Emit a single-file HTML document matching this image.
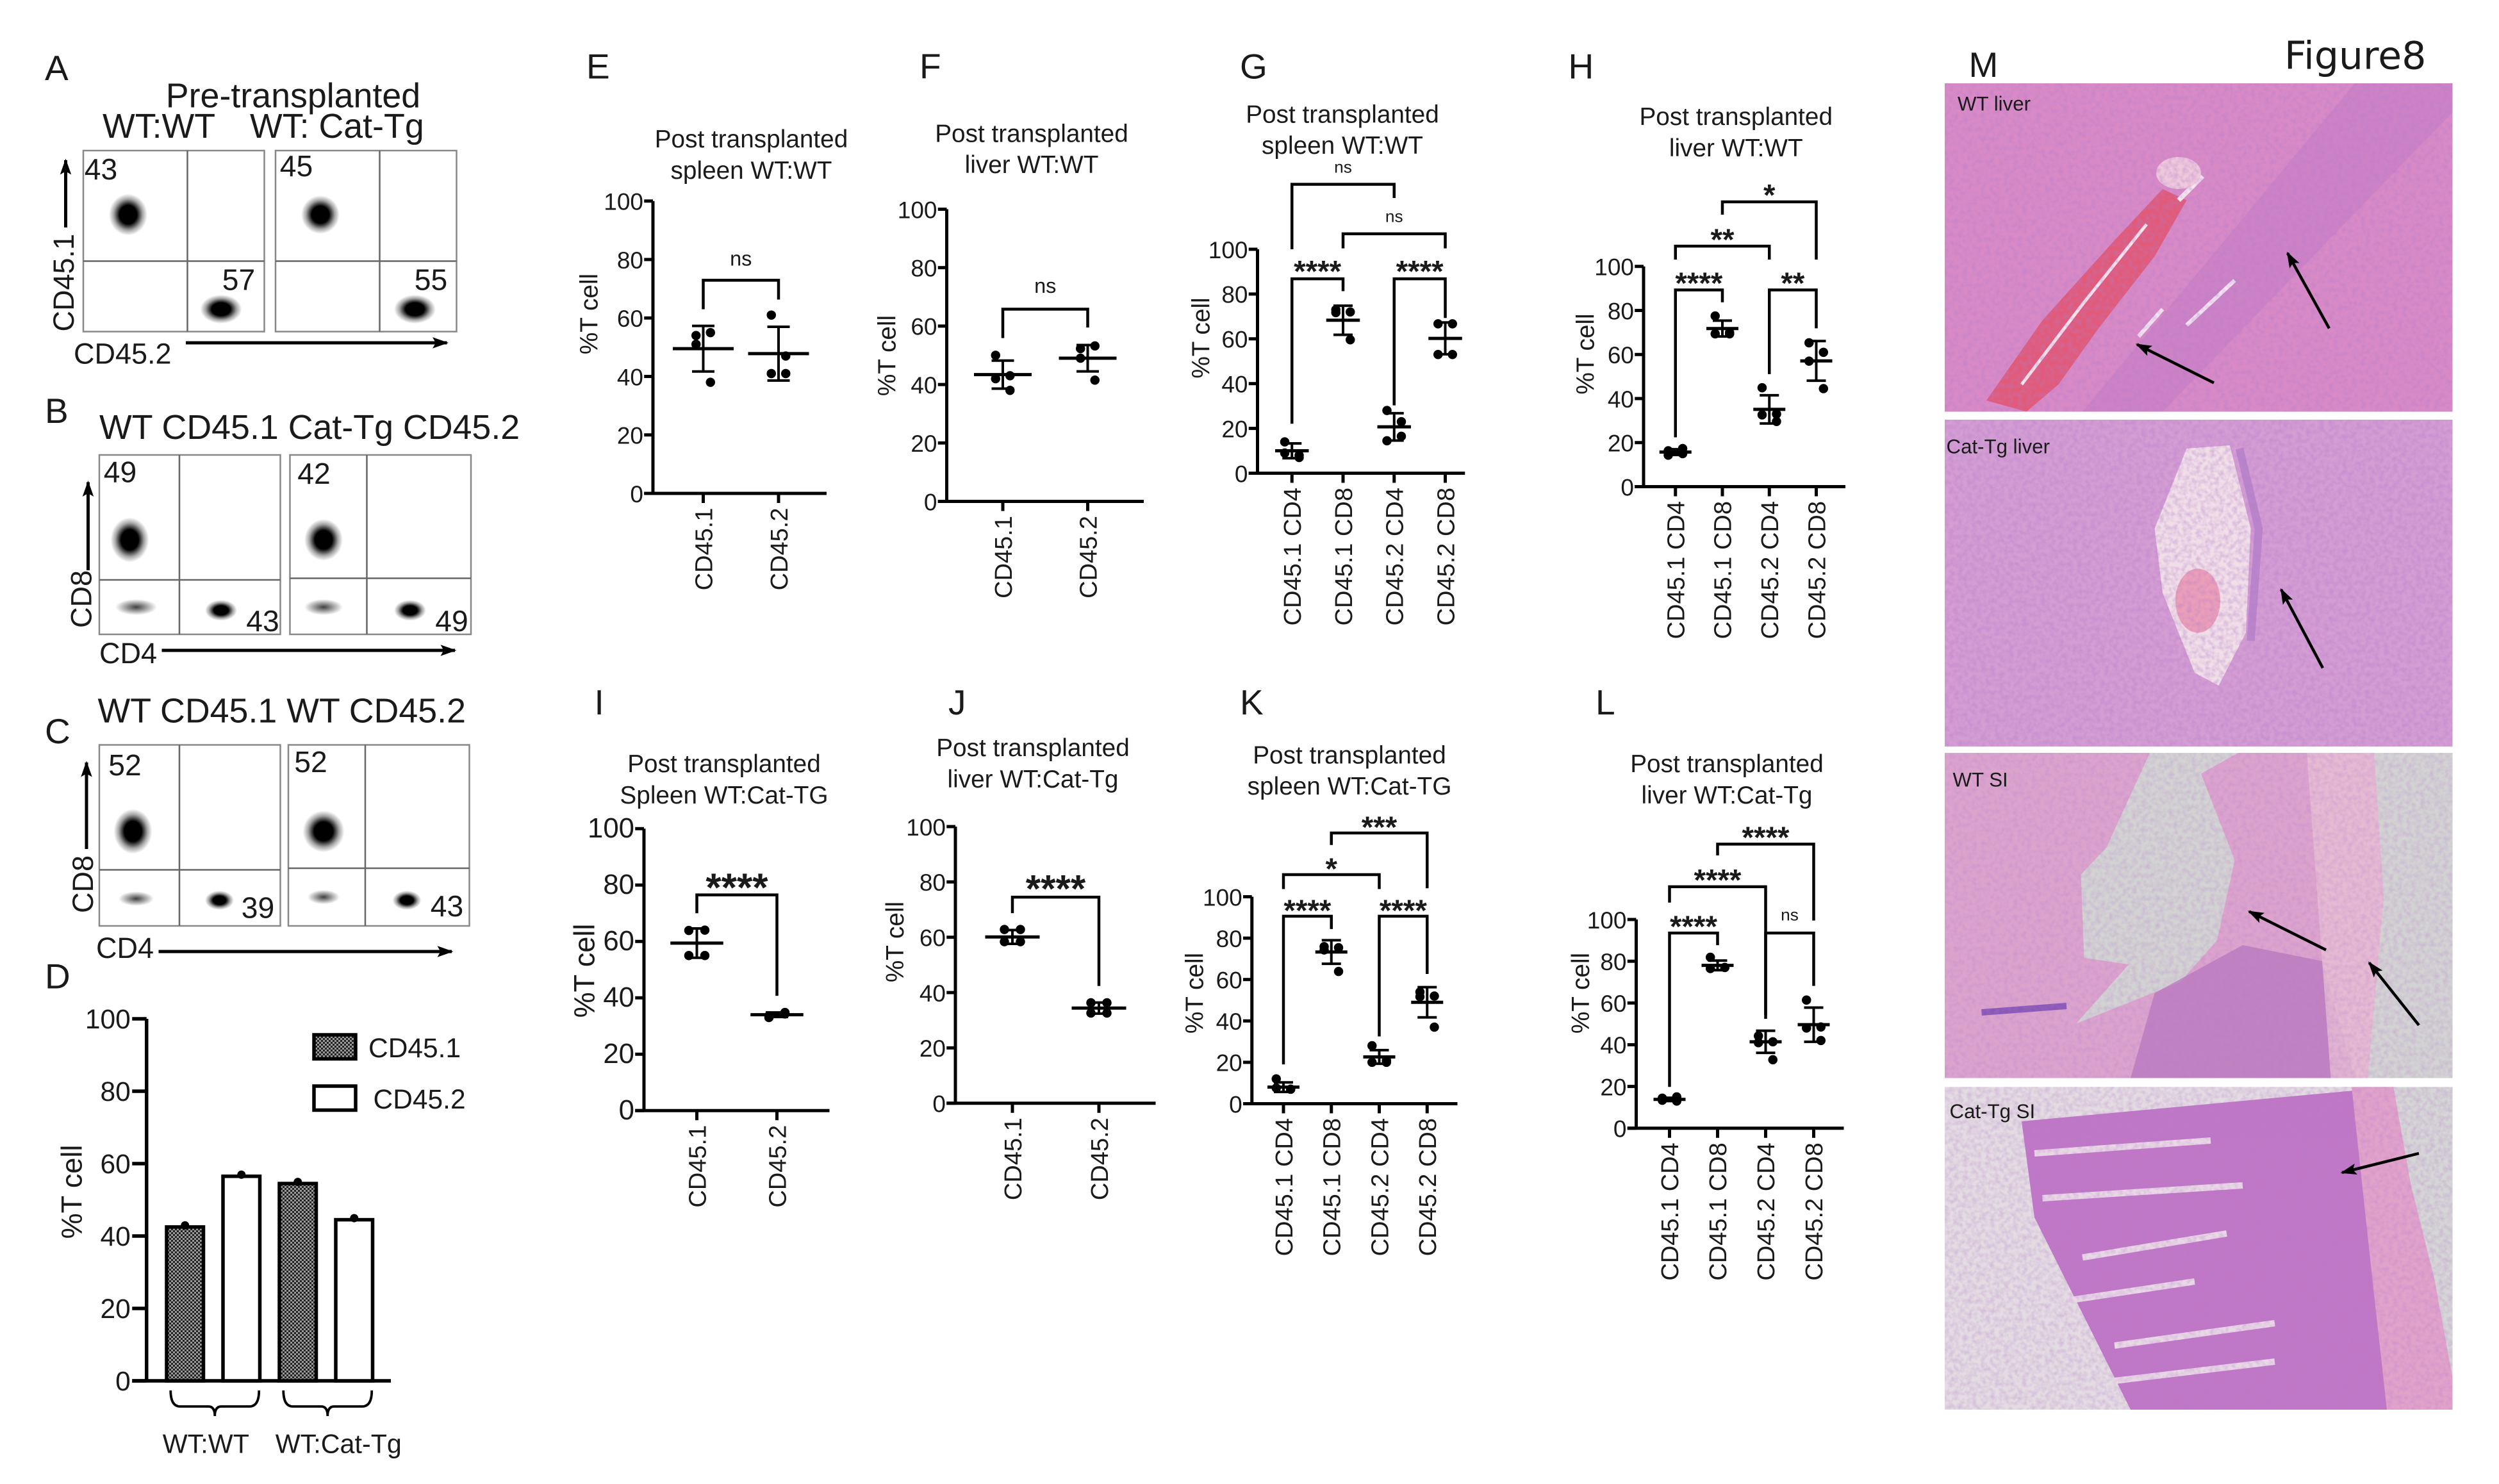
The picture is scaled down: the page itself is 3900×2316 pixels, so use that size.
<!DOCTYPE html>
<html><head><meta charset="utf-8"><title>Figure 8</title>
<style>
html,body{margin:0;padding:0;background:#fff;}
svg{display:block;}
text{font-family:"Liberation Sans",Arial,sans-serif;fill:#1a1a1a;}
</style></head>
<body>
<svg id="fig" xmlns="http://www.w3.org/2000/svg" width="3900" height="2316" viewBox="0 0 1560 926.4">
<defs>
  <pattern id="hatch" width="2.4" height="2.4" patternUnits="userSpaceOnUse">
    <rect width="2.4" height="2.4" fill="#9a9a9a"/>
    <rect width="1.2" height="1.2" fill="#222"/>
    <rect x="1.2" y="1.2" width="1.2" height="1.2" fill="#222"/>
  </pattern>
  <radialGradient id="blob"><stop offset="0" stop-color="#000"/><stop offset="0.45" stop-color="#000"/><stop offset="0.75" stop-color="#000" stop-opacity="0.35"/><stop offset="1" stop-color="#000" stop-opacity="0"/></radialGradient>
  <radialGradient id="blobFaint"><stop offset="0" stop-color="#000" stop-opacity="0.75"/><stop offset="0.6" stop-color="#000" stop-opacity="0.3"/><stop offset="1" stop-color="#000" stop-opacity="0"/></radialGradient>
  <filter id="tex" x="0" y="0" width="100%" height="100%">
    <feTurbulence type="fractalNoise" baseFrequency="0.35" numOctaves="2" seed="3"/>
    <feColorMatrix type="matrix" values="0 0 0 0 0.45  0 0 0 0 0.2  0 0 0 0 0.6  0 0 0 -1.6 1.05"/>
  </filter>
  <marker id="arrEnd" markerWidth="10" markerHeight="8" refX="9" refY="4" orient="auto" markerUnits="userSpaceOnUse">
    <path d="M0,0.5 L10,4 L0,7.5 L2,4 Z" fill="#000"/>
  </marker>
  <clipPath id="c1"><rect x="1214" y="52" width="317" height="205"/></clipPath>
  <clipPath id="c2"><rect x="1214" y="262" width="317" height="204"/></clipPath>
  <clipPath id="c3"><rect x="1214" y="470" width="317" height="203"/></clipPath>
  <clipPath id="c4"><rect x="1214" y="678.5" width="317" height="201.5"/></clipPath>
</defs>

<!-- ============ Panel A ============ -->
<g>
  <text x="28" y="50" font-size="22">A</text>
  <text x="183" y="67" font-size="21.5" text-anchor="middle">Pre-transplanted</text>
  <text x="64" y="86" font-size="21.5">WT:WT</text>
  <text x="156" y="86" font-size="21.5">WT: Cat-Tg</text>
  <g>
    <rect x="52" y="94" width="113" height="113" fill="none" stroke="#888" stroke-width="1"/>
    <line x1="117" y1="94" x2="117" y2="207" stroke="#666" stroke-width="1"/>
    <line x1="52" y1="163" x2="165" y2="163" stroke="#666" stroke-width="1"/>
    <ellipse cx="80" cy="134" rx="12" ry="13" fill="url(#blob)"/>
    <ellipse cx="138" cy="193" rx="13" ry="9" fill="url(#blob)"/>
    <text x="63" y="112" font-size="18.5" text-anchor="middle">43</text>
    <text x="149" y="181" font-size="18.5" text-anchor="middle">57</text>
  </g>
  <g>
    <rect x="172" y="94" width="113" height="113" fill="none" stroke="#888" stroke-width="1"/>
    <line x1="237" y1="94" x2="237" y2="207" stroke="#666" stroke-width="1"/>
    <line x1="172" y1="163" x2="285" y2="163" stroke="#666" stroke-width="1"/>
    <ellipse cx="200" cy="134" rx="12" ry="12" fill="url(#blob)"/>
    <ellipse cx="259" cy="193" rx="13" ry="9" fill="url(#blob)"/>
    <text x="185" y="110" font-size="18.5" text-anchor="middle">45</text>
    <text x="269" y="181" font-size="18.5" text-anchor="middle">55</text>
  </g>
  <text transform="translate(46,207) rotate(-90)" font-size="18">CD45.1</text>
  <line x1="41" y1="142" x2="41" y2="100" stroke="#000" stroke-width="2" marker-end="url(#arrEnd)"/>
  <text x="46" y="227" font-size="18">CD45.2</text>
  <line x1="116" y1="214" x2="279" y2="214" stroke="#000" stroke-width="2" marker-end="url(#arrEnd)"/>
</g>

<!-- ============ Panel B ============ -->
<g>
  <text x="28" y="264" font-size="22">B</text>
  <text x="62" y="274" font-size="21.5">WT CD45.1  Cat-Tg CD45.2</text>
  <g>
    <rect x="62" y="284" width="113" height="112" fill="none" stroke="#888"/>
    <line x1="112" y1="284" x2="112" y2="396" stroke="#666"/>
    <line x1="62" y1="362" x2="175" y2="362" stroke="#666"/>
    <ellipse cx="81" cy="337" rx="12" ry="14" fill="url(#blob)"/>
    <ellipse cx="85" cy="379" rx="13" ry="5" fill="url(#blobFaint)"/>
    <ellipse cx="138" cy="381" rx="10" ry="6.5" fill="url(#blob)"/>
    <text x="75" y="301" font-size="18.5" text-anchor="middle">49</text>
    <text x="164" y="394" font-size="18.5" text-anchor="middle">43</text>
  </g>
  <g>
    <rect x="181" y="284" width="113" height="112" fill="none" stroke="#888"/>
    <line x1="229" y1="284" x2="229" y2="396" stroke="#666"/>
    <line x1="181" y1="361" x2="294" y2="361" stroke="#666"/>
    <ellipse cx="202" cy="337" rx="12" ry="13" fill="url(#blob)"/>
    <ellipse cx="202" cy="379" rx="12" ry="5" fill="url(#blobFaint)"/>
    <ellipse cx="256" cy="381" rx="10" ry="6.5" fill="url(#blob)"/>
    <text x="196" y="302" font-size="18.5" text-anchor="middle">42</text>
    <text x="282" y="394" font-size="18.5" text-anchor="middle">49</text>
  </g>
  <text transform="translate(57,392) rotate(-90)" font-size="18">CD8</text>
  <line x1="55" y1="356" x2="55" y2="301" stroke="#000" stroke-width="2" marker-end="url(#arrEnd)"/>
  <text x="62" y="414" font-size="18">CD4</text>
  <line x1="101" y1="406" x2="284" y2="406" stroke="#000" stroke-width="2" marker-end="url(#arrEnd)"/>
</g>

<!-- ============ Panel C ============ -->
<g>
  <text x="28" y="464" font-size="22">C</text>
  <text x="61" y="451" font-size="21.5">WT CD45.1  WT CD45.2</text>
  <g>
    <rect x="62" y="465" width="113" height="113" fill="none" stroke="#888"/>
    <line x1="112" y1="465" x2="112" y2="578" stroke="#666"/>
    <line x1="62" y1="543" x2="175" y2="543" stroke="#666"/>
    <ellipse cx="83" cy="519" rx="12" ry="14" fill="url(#blob)"/>
    <ellipse cx="85" cy="561" rx="11" ry="4.5" fill="url(#blobFaint)"/>
    <ellipse cx="137" cy="562" rx="9" ry="6" fill="url(#blob)"/>
    <text x="78" y="484" font-size="18.5" text-anchor="middle">52</text>
    <text x="161" y="573" font-size="18.5" text-anchor="middle">39</text>
  </g>
  <g>
    <rect x="180" y="465" width="113" height="113" fill="none" stroke="#888"/>
    <line x1="228" y1="465" x2="228" y2="578" stroke="#666"/>
    <line x1="180" y1="542" x2="293" y2="542" stroke="#666"/>
    <ellipse cx="202" cy="519" rx="13" ry="13" fill="url(#blob)"/>
    <ellipse cx="202" cy="560" rx="10" ry="4.5" fill="url(#blobFaint)"/>
    <ellipse cx="254" cy="562" rx="9" ry="6" fill="url(#blob)"/>
    <text x="194" y="482" font-size="18.5" text-anchor="middle">52</text>
    <text x="279" y="572" font-size="18.5" text-anchor="middle">43</text>
  </g>
  <text transform="translate(58,570) rotate(-90)" font-size="18">CD8</text>
  <line x1="54" y1="530" x2="54" y2="476" stroke="#000" stroke-width="2" marker-end="url(#arrEnd)"/>
  <text x="60" y="598" font-size="18">CD4</text>
  <line x1="99" y1="594" x2="282" y2="594" stroke="#000" stroke-width="2" marker-end="url(#arrEnd)"/>
</g>

<!-- ============ Panel letters for charts ============ -->
<text x="28" y="617" font-size="22">D</text>
<text x="366" y="49" font-size="22">E</text>
<text x="574" y="49" font-size="22">F</text>
<text x="774" y="49" font-size="22">G</text>
<text x="979" y="49" font-size="22">H</text>
<text x="371" y="446" font-size="22">I</text>
<text x="592" y="446" font-size="22">J</text>
<text x="774" y="446" font-size="22">K</text>
<text x="996" y="446" font-size="22">L</text>
<text x="1229" y="48" font-size="22">M</text>
<text x="1426" y="43" font-size="24" style="font-family:'DejaVu Sans','Liberation Sans',sans-serif">Figure8</text>

<g id="charts"></g>

<!-- ============ Panel M histology ============ -->
<g>
  <g clip-path="url(#c1)">
    <rect x="1214" y="52" width="317" height="205" fill="#d98ac6"/>
    <path d="M1300,257 L1470,52 L1531,52 L1531,70 L1350,257 Z" fill="#b472c2" opacity="0.3"/>
    <path d="M1240,250 L1275,200 L1320,150 L1350,118 L1365,125 L1345,160 L1310,205 L1285,240 L1265,257 Z" fill="#e25a78"/>
    <path d="M1262,240 L1300,190 L1340,140" stroke="#fbe6ee" stroke-width="2" fill="none"/>
    <path d="M1360,125 L1375,110" stroke="#f7e8f0" stroke-width="3"/>
    <path d="M1365,203 L1395,175 M1335,210 L1350,193" stroke="#f3e6f2" stroke-width="2.5"/>
    <ellipse cx="1360" cy="108" rx="14" ry="10" fill="#efc9dc"/>
    <rect x="1214" y="52" width="317" height="205" filter="url(#tex)" opacity="0.5"/>
    <text x="1222" y="69" font-size="12.5">WT  liver</text>
    <line x1="1454" y1="205" x2="1428" y2="158" stroke="#000" stroke-width="1.8" marker-end="url(#arrEnd)"/>
    <line x1="1382" y1="239" x2="1334" y2="215" stroke="#000" stroke-width="1.8" marker-end="url(#arrEnd)"/>
  </g>
  <g clip-path="url(#c2)">
    <rect x="1214" y="262" width="317" height="204" fill="#d49dd3"/>
    <path d="M1365,280 L1392,278 L1405,330 L1402,395 L1385,428 L1370,420 L1350,370 L1345,330 Z" fill="#f1dfe8"/>
    <ellipse cx="1372" cy="375" rx="14" ry="20" fill="#ec9fb8"/>
    <path d="M1398,280 L1410,330 L1405,400" stroke="#a874c4" stroke-width="5" fill="none" opacity="0.6"/>
    <rect x="1214" y="262" width="317" height="204" filter="url(#tex)" opacity="0.5"/>
    <text x="1215" y="283" font-size="12.5">Cat-Tg  liver</text>
    <line x1="1450" y1="417" x2="1424" y2="368" stroke="#000" stroke-width="1.8" marker-end="url(#arrEnd)"/>
  </g>
  <g clip-path="url(#c3)">
    <rect x="1214" y="470" width="317" height="203" fill="#d3d3d3"/>
    <path d="M1214,470 L1342,470 L1315,529 L1299,546 L1301,598 L1329,602 L1296,639 L1361,613 L1384,587 L1395,537 L1374,483 L1397,470 L1482,470 L1488,560 L1478,673 L1214,673 Z" fill="#dca4cc"/>
    <path d="M1330,673 L1345,620 L1400,590 L1450,600 L1470,673 Z" fill="#b574bd" opacity="0.7"/>
    <path d="M1440,470 L1482,470 L1488,560 L1478,673 L1455,673 Z" fill="#e8bfd4" opacity="0.8"/>
    <path d="M1237,632 L1290,628" stroke="#8a58b8" stroke-width="4"/>
    <rect x="1214" y="470" width="317" height="203" filter="url(#tex)" opacity="0.35"/>
    <text x="1219" y="491" font-size="12.5">WT  SI</text>
    <line x1="1452" y1="593" x2="1404" y2="569" stroke="#000" stroke-width="1.8" marker-end="url(#arrEnd)"/>
    <line x1="1510" y1="640" x2="1479" y2="601" stroke="#000" stroke-width="1.8" marker-end="url(#arrEnd)"/>
  </g>
  <g clip-path="url(#c4)">
    <rect x="1214" y="678.5" width="317" height="201.5" fill="#d6d6d6"/>
    <path d="M1214,678.5 L1494,678.5 L1505,740 L1520,800 L1531,860 L1531,880 L1214,880 Z" fill="#e4dce2"/>
    <path d="M1262,700 L1494,678.5 L1505,740 L1520,800 L1531,880 L1330,880 L1300,820 L1270,760 Z" fill="#c077c6"/>
    <path d="M1270,720 L1380,712 M1275,748 L1400,740 M1300,785 L1390,770 M1290,812 L1370,800 M1320,840 L1420,826 M1320,862 L1420,850" stroke="#ead8e6" stroke-width="4" fill="none"/>
    <path d="M1468,678.5 L1494,678.5 L1505,740 L1520,800 L1531,860 L1531,880 L1490,880 L1480,790 Z" fill="#e2a3ca"/>
    <rect x="1214" y="678.5" width="317" height="201.5" filter="url(#tex)" opacity="0.4"/>
    <text x="1217" y="698" font-size="12.5">Cat-Tg  SI</text>
    <line x1="1510" y1="720" x2="1462" y2="732" stroke="#000" stroke-width="1.8" marker-end="url(#arrEnd)"/>
  </g>
</g>
</svg>

<script>
// ---------------- Panel D data ----------------
const D_groups = ["WT:WT", "WT:Cat-Tg"];
const D_series = ["CD45.1", "CD45.2"];
const D_values = [42.5, 56.5, 54.5, 44.5];
const D_ticks = [0, 20, 40, 60, 80, 100];

// ---------------- Scatter panels data ----------------
const E_cats = ["CD45.1", "CD45.2"];
const E_points = [[54, 55, 51, 38], [61, 47, 41, 41]];
const E_mean = [49.5, 47.8];
const E_sd = [7.8, 9.2];

const F_cats = ["CD45.1", "CD45.2"];
const F_points = [[50, 43, 42, 38], [52.3, 53.2, 49, 41.5]];
const F_mean = [43.4, 49];
const F_sd = [4.8, 4.5];

const G_cats = ["CD45.1 CD4", "CD45.1 CD8", "CD45.2 CD4", "CD45.2 CD8"];
const G_points = [[14, 8, 9, 7], [73, 72, 71.7, 59.6], [28, 23, 14.5, 16.5], [66.7, 66.7, 53, 53]];
const G_mean = [10, 68.3, 20.7, 60.2];
const G_sd = [3.3, 6.5, 6.1, 7.1];

const H_cats = ["CD45.1 CD4", "CD45.1 CD8", "CD45.2 CD4", "CD45.2 CD8"];
const H_points = [[16.3, 17.3, 14.3, 15], [77.5, 69.4, 69.4, 70], [44.9, 29.6, 32.6, 33], [65.3, 61, 57, 44.5]];
const H_mean = [15.7, 71.8, 35.1, 57.1];
const H_sd = [1.3, 3.6, 6.4, 9];

const I_cats = ["CD45.1", "CD45.2"];
const I_points = [[63.9, 64, 55, 55], [33, 34.3, 33.6, 34.8]];
const I_mean = [59.4, 34];
const I_sd = [5.2, 0.8];

const J_cats = ["CD45.1", "CD45.2"];
const J_points = [[62.8, 62.8, 58.4, 58.4], [36.3, 36.3, 32.6, 32.6]];
const J_mean = [60.1, 34.4];
const J_sd = [2.5, 2];

const K_cats = ["CD45.1 CD4", "CD45.1 CD8", "CD45.2 CD4", "CD45.2 CD8"];
const K_points = [[12, 7, 7.6, 7], [75.9, 75.4, 74.3, 63.9], [28, 21, 20, 20], [54, 52, 51.7, 37]];
const K_mean = [8, 73.3, 22.6, 49];
const K_sd = [2.3, 5.7, 3.3, 7.3];

const L_cats = ["CD45.1 CD4", "CD45.1 CD8", "CD45.2 CD4", "CD45.2 CD8"];
const L_points = [[14.4, 15, 13.4, 13], [81.9, 77, 76.5, 77], [44.2, 41.4, 41, 32.8], [61.4, 48.5, 48, 42]];
const L_mean = [13.8, 78, 41.4, 49.6];
const L_sd = [0.8, 2.3, 5.3, 8.2];

const Y_ticks = [0, 20, 40, 60, 80, 100];

// brackets: [from index, to index, level value, left leg value, right leg value, label]
const E_brackets = [[0, 1, 72.9, 63, 66.3, "ns"]];
const F_brackets = [[0, 1, 65.8, 55.9, 59.5, "ns"]];
const G_brackets = [[0, 1, 86.8, 22.1, 81.3, "****"], [2, 3, 86.8, 30.3, 69.3, "****"], [0, 2, 129, 100, 122.9, "ns"], [1, 3, 106.9, 100.4, 100.4, "ns"]];
const H_brackets = [[0, 1, 89.3, 22.4, 83.7, "****"], [2, 3, 89.3, 51.1, 71.9, "**"], [0, 2, 109.2, 103.1, 103.1, "**"], [1, 3, 129.3, 123.5, 103.1, "*"]];
const I_brackets = [[0, 1, 76.5, 70, 40.7, "****"]];
const J_brackets = [[0, 1, 74.5, 68.7, 42.4, "****"]];
const K_brackets = [[0, 1, 90.6, 19, 84.4, "****"], [2, 3, 90.6, 32.5, 62.7, "****"], [0, 2, 110.7, 103.7, 103.7, "*"], [1, 3, 130.8, 125, 104.1, "***"]];
const L_brackets = [[0, 1, 93.5, 19.8, 87.7, "****"], [2, 3, 93.5, 52.4, 68.2, "ns"], [0, 2, 115.7, 108.1, 54.3, "****"], [1, 3, 136.1, 130.7, 99.5, "****"]];

const NS = "http://www.w3.org/2000/svg";
const root = document.getElementById("charts");
function mk(tag, attrs, parent) {
  const el = document.createElementNS(NS, tag);
  for (const k in attrs) el.setAttribute(k, attrs[k]);
  (parent || root).appendChild(el);
  return el;
}

// ---------------- Panel D ----------------
(function () {
  const g = mk("g", {});
  
  
  const ax = 91.5, y0 = 862, y100 = 636;
  const Y = v => y0 - v * (y0 - y100) / 100;
  const X = i => 115.5 + i * 35.2;
  mk("line", { x1: ax, y1: y0, x2: ax, y2: y100, stroke: "#000", "stroke-width": 2.2 }, g);
  mk("line", { x1: ax - 9, y1: y0, x2: 244, y2: y0, stroke: "#000", "stroke-width": 2.2 }, g);
  D_ticks.forEach(t => {
    mk("line", { x1: ax - 9, y1: Y(t), x2: ax, y2: Y(t), stroke: "#000", "stroke-width": 2.2 }, g);
    const tx = mk("text", { x: ax - 10, y: Y(t) + 6, "font-size": 17, "text-anchor": "end" }, g);
    tx.textContent = t;
    
    
  });
  D_values.forEach((v, i) => {
    const r = mk("rect", { x: X(i) - 11.5, y: Y(v), width: 23, height: y0 - Y(v), fill: i % 2 === 0 ? "url(#hatch)" : "#fff", stroke: "#000", "stroke-width": 2.2 }, g);
    
    
    mk("circle", { cx: X(i), cy: Y(v) - 1, r: 2.6, fill: "#000" }, g);
  });
  D_groups.forEach((name, gi) => {
    const xa = X(gi * 2) - 9, xb = X(gi * 2 + 1) + 11, xm = (xa + xb) / 2;
    mk("path", { d: `M${xa},868 Q${xa},878 ${xa + 6},878 L${xm - 4},878 Q${xm},878 ${xm},884 Q${xm},878 ${xm + 4},878 L${xb - 6},878 Q${xb},878 ${xb},868`, fill: "none", stroke: "#000", "stroke-width": 1.5 }, g);
    const t = mk("text", { x: xa - 5, y: 907, "font-size": 16.5, "text-anchor": "start" }, g);
    t.textContent = name;
    
    
  });
  const yl = mk("text", { transform: "translate(51,744) rotate(-90)", "font-size": 18, "text-anchor": "middle" }, g);
  yl.textContent = "%T cell";
  
  
  D_series.forEach((s, i) => {
    const ly = 646 + i * 32;
    const r = mk("rect", { x: 196, y: ly, width: 26, height: 15, fill: i === 0 ? "url(#hatch)" : "#fff", stroke: "#000", "stroke-width": 2.2 }, g);
    
    
    const t = mk("text", { x: 230 + i * 3, y: ly + 14, "font-size": 17 }, g);
    t.textContent = s;
    
    
  });
})();

// ---------------- scatter panels ----------------
function scatterPanel(cfg, cats, points, means, sds, brackets) {
  const g = mk("g", {});
  
  
  const Y = v => cfg.y0 - v * (cfg.y0 - cfg.y100) / 100;
  const X = i => cfg.cx0 + i * cfg.step;
  const sw = 2;
  cfg.title.forEach((line, li) => {
    const t = mk("text", { x: cfg.tx, y: cfg.ty + li * 19.5, "font-size": 15.5, "text-anchor": "middle" }, g);
    t.textContent = line;
    
    
  });
  mk("line", { x1: cfg.ax, y1: cfg.y0, x2: cfg.ax, y2: cfg.y100, stroke: "#000", "stroke-width": sw }, g);
  mk("line", { x1: cfg.ax - 5.5, y1: cfg.y0, x2: cfg.xEnd, y2: cfg.y0, stroke: "#000", "stroke-width": sw }, g);
  Y_ticks.forEach(t => {
    mk("line", { x1: cfg.ax - 5.5, y1: Y(t), x2: cfg.ax, y2: Y(t), stroke: "#000", "stroke-width": sw }, g);
    const tx = mk("text", { x: cfg.ax - 6, y: Y(t) + 5.5, "font-size": cfg.tickFs, "text-anchor": "end", fill: "#333" }, g);
    tx.textContent = t;
    
    
  });
  const yl = mk("text", { transform: `translate(${cfg.ylx},${cfg.yly}) rotate(-90)`, "font-size": cfg.ylFs, "text-anchor": "middle", fill: "#333" }, g);
  yl.textContent = "%T cell";
  
  
  cats.forEach((c, i) => {
    mk("line", { x1: X(i), y1: cfg.y0, x2: X(i), y2: cfg.y0 + 6, stroke: "#000", "stroke-width": sw }, g);
    const t = mk("text", { transform: `translate(${X(i) + 5.5},${cfg.y0 + 9}) rotate(-90)`, "font-size": 15.2, "text-anchor": "end", fill: "#333" }, g);
    t.textContent = c;
    
    
  });
  const jit = [-1, 1, -1, 1];
  points.forEach((arr, i) => {
    arr.forEach((v, k) => {
      const p = mk("circle", { cx: X(i) + jit[k] * cfg.jit, cy: Y(v), r: 2.9, fill: "#000" }, g);
      
      
    });
    const m = means[i], s = sds[i];
    const ml = mk("line", { x1: X(i) - cfg.mw, y1: Y(m), x2: X(i) + cfg.mw, y2: Y(m), stroke: "#000", "stroke-width": sw }, g);
    
    
    mk("line", { x1: X(i), y1: Y(m + s), x2: X(i), y2: Y(m - s), stroke: "#000", "stroke-width": 1.6 }, g);
    mk("line", { x1: X(i) - cfg.cw, y1: Y(m + s), x2: X(i) + cfg.cw, y2: Y(m + s), stroke: "#000", "stroke-width": 1.6 }, g);
    mk("line", { x1: X(i) - cfg.cw, y1: Y(m - s), x2: X(i) + cfg.cw, y2: Y(m - s), stroke: "#000", "stroke-width": 1.6 }, g);
  });
  brackets.forEach(b => {
    const [a, c, lv, l1, l2, label] = b;
    const path = mk("path", { d: `M${X(a)},${Y(l1)} L${X(a)},${Y(lv)} L${X(c)},${Y(lv)} L${X(c)},${Y(l2)}`, fill: "none", stroke: "#000", "stroke-width": 1.8 }, g);
    
    
    const isNs = label === "ns";
    const fs = isNs ? cfg.nsFs : cfg.starFs;
    const cy = Y(lv) - (isNs ? cfg.nsOff : cfg.starOff);
    const t = mk("text", { x: (X(a) + X(c)) / 2, y: isNs ? cy + fs * 0.3 : cy + fs * 0.62, "font-size": fs, "text-anchor": "middle", "font-weight": isNs ? "normal" : "bold", fill: "#111" }, g);
    t.textContent = label;
    
    
  });
}

scatterPanel({ name: "panel-e-chart", ax: 407.6, y0: 308, y100: 125.5, xEnd: 516, cx0: 439, step: 47, tx: 469, ty: 92, title: ["Post transplanted", "spleen WT:WT"], tickFs: 14.8, ylx: 373, yly: 196, ylFs: 15.5, jit: 4.5, mw: 19, cw: 7, nsFs: 13, nsOff: 13, starFs: 20, starOff: 10 }, E_cats, E_points, E_mean, E_sd, E_brackets);
scatterPanel({ name: "panel-f-chart", ax: 591, y0: 313, y100: 130.6, xEnd: 714, cx0: 626, step: 53, tx: 644, ty: 88.5, title: ["Post transplanted", "liver WT:WT"], tickFs: 14.8, ylx: 559, yly: 222, ylFs: 15.5, jit: 4.5, mw: 18, cw: 7, nsFs: 13, nsOff: 14, starFs: 20, starOff: 10 }, F_cats, F_points, F_mean, F_sd, F_brackets);
scatterPanel({ name: "panel-g-chart", ax: 785, y0: 295.4, y100: 155.6, xEnd: 914.5, cx0: 806.5, step: 31.9, tx: 838, ty: 76.5, title: ["Post transplanted", "spleen  WT:WT"], tickFs: 14.8, ylx: 755, yly: 211, ylFs: 15.5, jit: 4.5, mw: 10.5, cw: 6, nsFs: 10.5, nsOff: 10.5, starFs: 19, starOff: 10 }, G_cats, G_points, G_mean, G_sd, G_brackets);
scatterPanel({ name: "panel-h-chart", ax: 1026, y0: 303.8, y100: 166.3, xEnd: 1152, cx0: 1045.9, step: 29.3, tx: 1083.7, ty: 78, title: ["Post transplanted", "liver WT:WT"], tickFs: 14.8, ylx: 995, yly: 221, ylFs: 15.5, jit: 4.5, mw: 10, cw: 6, nsFs: 10.5, nsOff: 10, starFs: 19, starOff: 9.5 }, H_cats, H_points, H_mean, H_sd, H_brackets);
scatterPanel({ name: "panel-i-chart", ax: 402, y0: 693.3, y100: 517.3, xEnd: 517.8, cx0: 435, step: 50, tx: 452, ty: 482, title: ["Post transplanted", "Spleen WT:Cat-TG"], tickFs: 17.5, ylx: 371, yly: 606, ylFs: 18, jit: 5, mw: 16.5, cw: 7, nsFs: 13, nsOff: 12, starFs: 25, starOff: 11.5 }, I_cats, I_points, I_mean, I_sd, I_brackets);
scatterPanel({ name: "panel-j-chart", ax: 596.4, y0: 688.7, y100: 516, xEnd: 721.4, cx0: 632, step: 54, tx: 644.8, ty: 472, title: ["Post transplanted", "liver WT:Cat-Tg"], tickFs: 14.8, ylx: 564, yly: 588, ylFs: 15.5, jit: 5, mw: 17, cw: 7, nsFs: 13, nsOff: 12, starFs: 24, starOff: 12 }, J_cats, J_points, J_mean, J_sd, J_brackets);
scatterPanel({ name: "panel-k-chart", ax: 781.5, y0: 689, y100: 559.8, xEnd: 909.8, cx0: 801.2, step: 29.9, tx: 842.4, ty: 476.5, title: ["Post transplanted", "spleen  WT:Cat-TG"], tickFs: 14.8, ylx: 751, yly: 620, ylFs: 15.5, jit: 4.5, mw: 10, cw: 6, nsFs: 10.5, nsOff: 10, starFs: 19, starOff: 9 }, K_cats, K_points, K_mean, K_sd, K_brackets);
scatterPanel({ name: "panel-l-chart", ax: 1021.4, y0: 704.3, y100: 574, xEnd: 1151, cx0: 1042.2, step: 30, tx: 1078, ty: 482, title: ["Post transplanted", "liver WT:Cat-Tg"], tickFs: 14.8, ylx: 992, yly: 620, ylFs: 15.5, jit: 4.5, mw: 10, cw: 6, nsFs: 10.5, nsOff: 11, starFs: 19, starOff: 9.5 }, L_cats, L_points, L_mean, L_sd, L_brackets);
</script>
</body></html>
